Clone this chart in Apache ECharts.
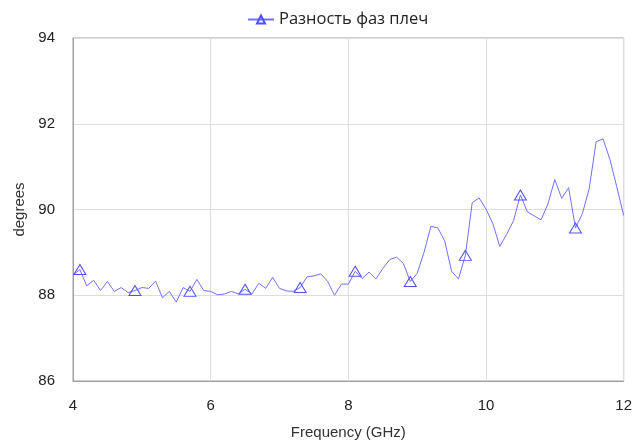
<!DOCTYPE html>
<html>
<head>
<meta charset="utf-8">
<script src="https://cdn.jsdelivr.net/npm/echarts@6/dist/echarts.min.js"></script>
<style>html,body{margin:0;padding:0;background:#fff}#c{width:635px;height:445px}</style>
</head>
<body>
<div id="c"></div>
<script>
const seriesName = 'Разность фаз плеч';
const frequency = [
  4.0,4.1,4.2,4.3,4.4,4.5,4.6,4.7,4.8,4.9,
  5.0,5.1,5.2,5.3,5.4,5.5,5.6,5.7,5.8,5.9,
  6.0,6.1,6.2,6.3,6.4,6.5,6.6,6.7,6.8,6.9,
  7.0,7.1,7.2,7.3,7.4,7.5,7.6,7.7,7.8,7.9,
  8.0,8.1,8.2,8.3,8.4,8.5,8.6,8.7,8.8,8.9,
  9.0,9.1,9.2,9.3,9.4,9.5,9.6,9.7,9.8,9.9,
  10.0,10.1,10.2,10.3,10.4,10.5,10.6,10.7,10.8,10.9,
  11.0,11.1,11.2,11.3,11.4,11.5,11.6,11.7,11.8,11.9,
  12.0
];
const phaseDiff = [
  88.47,88.60,88.22,88.35,88.11,88.32,88.09,88.18,88.06,88.11,
  88.18,88.16,88.33,87.94,88.09,87.84,88.18,88.09,88.37,88.11,
  88.09,88.01,88.03,88.09,88.03,88.14,88.03,88.28,88.16,88.42,
  88.16,88.10,88.09,88.18,88.43,88.45,88.50,88.32,88.00,88.26,
  88.26,88.56,88.39,88.54,88.38,88.62,88.83,88.89,88.74,88.32,
  88.51,89.00,89.61,89.57,89.27,88.56,88.38,88.93,90.16,90.27,
  90.01,89.67,89.14,89.42,89.74,90.34,89.95,89.85,89.76,90.13,
  90.70,90.26,90.51,89.57,89.90,90.49,91.58,91.65,91.17,90.53,
  89.86
];
const markerFrequencies = [4.1,4.9,5.7,6.5,7.3,8.1,8.9,9.7,10.5,11.3];
const xTicks = [4,6,8,10,12];
const yTicks = [86,88,90,92,94];

const data = frequency.map((f, i) => {
  const item = { value: [f, phaseDiff[i]] };
  if (!markerFrequencies.some(m => Math.abs(m - f) < 1e-6)) item.symbol = 'none';
  return item;
});

const chart = echarts.init(document.getElementById('c'), null, {renderer: 'canvas'});
chart.setOption({
  animation: false,
  backgroundColor: '#fff',
  legend: {
    top: 6,
    left: 242,
    itemWidth: 26,
    itemHeight: 10,
    itemGap: 7,
    textStyle: { fontFamily: 'Open Sans', fontSize: 16.5, color: '#222' },
    data: [seriesName]
  },
  grid: {
    left: 73, right: 8, top: 38, bottom: 57,
    show: true, borderColor: '#a0a0a0', borderWidth: 1, containLabel: false
  },
  xAxis: {
    type: 'value', min: 4, max: 12, interval: 2,
    name: 'Frequency (GHz)', nameLocation: 'middle', nameGap: 44,
    nameTextStyle: { fontFamily: 'Liberation Sans', fontSize: 15, color: '#333' },
    axisLine: { show: true, lineStyle: { color: '#a0a0a0' } },
    axisTick: { show: false },
    axisLabel: { fontFamily: 'Liberation Sans', fontSize: 15, color: '#222', margin: 17,
      formatter: v => xTicks.includes(v) ? String(v) : '' },
    splitLine: { show: true, lineStyle: { color: '#dedede' } }
  },
  yAxis: {
    type: 'value', min: 86, max: 94, interval: 2,
    name: 'degrees', nameLocation: 'middle', nameGap: 44,
    nameTextStyle: { fontFamily: 'Liberation Sans', fontSize: 15, color: '#333' },
    axisLine: { show: true, lineStyle: { color: '#a0a0a0' } },
    axisTick: { show: false },
    axisLabel: { fontFamily: 'Liberation Sans', fontSize: 15, color: '#222', margin: 18,
      formatter: v => yTicks.includes(v) ? String(v) : '' },
    splitLine: { show: true, lineStyle: { color: '#dedede' } }
  },
  series: [{
    name: seriesName,
    type: 'line',
    data: data,
    symbol: 'triangle',
    symbolSize: [12, 10],
    showAllSymbol: true,
    lineStyle: { color: '#7070ff', width: 1 },
    itemStyle: { color: 'rgba(255,255,255,0)', borderColor: '#5050ff', borderWidth: 1 },
    emphasis: { disabled: true }
  }]
});
</script>
</body>
</html>
